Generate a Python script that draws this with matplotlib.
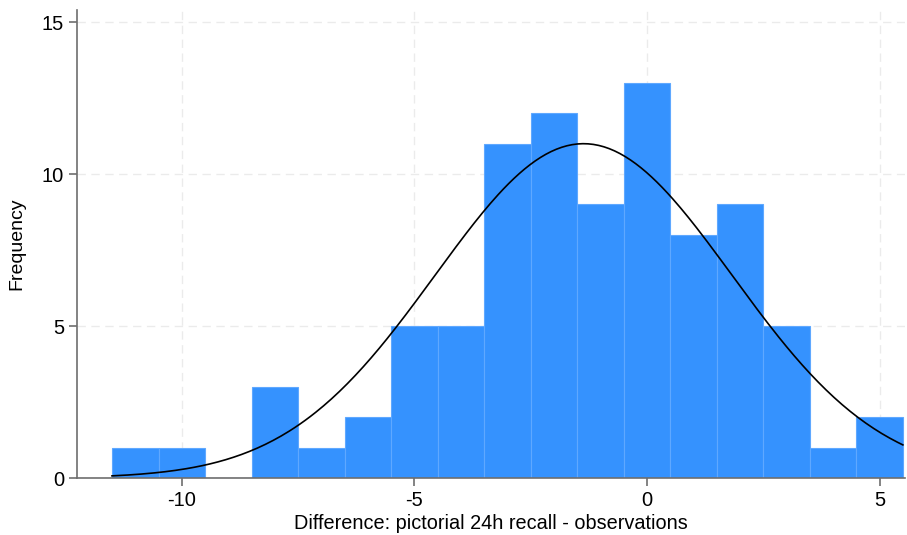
import numpy as np
import matplotlib.pyplot as plt

plt.rcParams['font.family'] = ['Liberation Sans', 'DejaVu Sans']
plt.rcParams['axes.unicode_minus'] = False

# Bin centres (width 1) and counts
bin_centers = [-11, -10, -9, -8, -7, -6, -5, -4, -3, -2, -1, 0, 1, 2, 3, 4, 5]
counts = [1, 1, 0, 3, 1, 2, 5, 5, 11, 12, 9, 13, 8, 9, 5, 1, 2]
bin_width = 1.0

x_ticks = [-10, -5, 0, 5]
y_ticks = [0, 5, 10, 15]

fig = plt.figure(figsize=(9.07, 5.35), dpi=100)
ax = fig.add_axes([0.085, 0.1065, 0.913, 0.875])

ax.bar(bin_centers, counts, width=bin_width,
       color='#3592FE', edgecolor='#5FA8FF', linewidth=0.8, zorder=2)

# Normal density fitted to the binned data, scaled to frequency
c = np.array(bin_centers, dtype=float)
n = np.array(counts, dtype=float)
N = n.sum()
mu = (c * n).sum() / N
sd = np.sqrt(((c - mu) ** 2 * n).sum() / (N - 1))
xs = np.linspace(c[0] - bin_width / 2, c[-1] + bin_width / 2, 300)
ys = N * bin_width * np.exp(-0.5 * ((xs - mu) / sd) ** 2) / (sd * np.sqrt(2 * np.pi))
ax.plot(xs, ys, color='black', linewidth=1.2, zorder=3)

ax.set_xlim(-12.25, 5.55)
ax.set_ylim(0, 15.4)
ax.set_xticks(x_ticks)
ax.set_yticks(y_ticks)
ax.grid(True, color='#EBEBEB', linestyle=(0, (6, 4)), linewidth=1.0, zorder=0)
ax.set_axisbelow(True)

for s in ['top', 'right']:
    ax.spines[s].set_visible(False)
for s in ['left', 'bottom']:
    ax.spines[s].set_color('#6E6E6E')
    ax.spines[s].set_linewidth(1.2)
    ax.spines[s].set_zorder(4)

ax.tick_params(axis='both', colors='#6E6E6E', labelcolor='black',
               labelsize=14.5, length=6, width=1.2)
ax.set_ylabel('Frequency', fontsize=14, labelpad=12)
ax.set_xlabel('Difference: pictorial 24h recall - observations', fontsize=14.3, labelpad=3)

fig.savefig('out.png', dpi=100)
